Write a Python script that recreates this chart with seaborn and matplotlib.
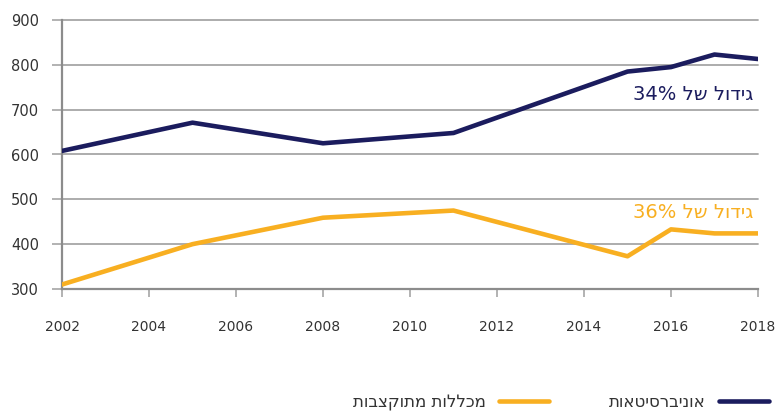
import matplotlib
matplotlib.use("Agg")
import matplotlib.pyplot as plt
import seaborn as sns
import pandas as pd

years = [2002, 2005, 2008, 2011, 2015, 2016, 2017, 2018]
universities = [608, 671, 625, 648, 785, 795, 823, 813]
colleges = [310, 400, 459, 475, 373, 433, 424, 424]
series_names = ["אוניברסיטאות", "מכללות מתוקצבות"]
annot_texts = ["גידול של 34%", "גידול של 36%"]
x_ticks = list(range(2002, 2019, 2))
y_ticks = [300, 400, 500, 600, 700, 800, 900]

NAVY = "#1b1c5e"
ORANGE = "#f8af21"
GRID = "#a6a6a6"


def vis(s):
    """Visual (left-to-right) order for simple Hebrew strings."""
    toks = s.split(" ")
    out = []
    for t in reversed(toks):
        if any("\u0590" <= c <= "\u05ff" for c in t):
            out.append(t[::-1])
        else:
            out.append(t)
    return " ".join(out)


df = pd.DataFrame({
    "year": years * 2,
    "value": universities + colleges,
    "series": [series_names[0]] * len(years) + [series_names[1]] * len(years),
})

sns.set_theme(style="white")
plt.rcParams["font.family"] = ["DejaVu Sans"]

fig = plt.figure(figsize=(7.76, 4.11), dpi=100)
ax = fig.add_axes([62 / 776, 1 - 289 / 411, (758 - 62) / 776, (289 - 20) / 411])

sns.lineplot(data=df, x="year", y="value", hue="series",
             palette={series_names[0]: NAVY, series_names[1]: ORANGE},
             linewidth=3.3, ax=ax, legend=False)

ax.set_xlim(2002, 2018)
ax.set_ylim(300, 900)
ax.set_xticks(x_ticks)
ax.set_yticks(y_ticks)
ax.set_xlabel("")
ax.set_ylabel("")
for y in y_ticks[1:]:
    ax.axhline(y, color=GRID, lw=1.3, zorder=0, clip_on=False)

for s in ["top", "right"]:
    ax.spines[s].set_visible(False)
ax.spines["left"].set_color("#8c8c8c")
ax.spines["left"].set_linewidth(1.6)
ax.spines["bottom"].set_color("#8c8c8c")
ax.spines["bottom"].set_linewidth(1.6)
ax.spines["left"].set_zorder(1)

ax.tick_params(axis="y", length=7.5, width=1.2, color=GRID, pad=9,
               labelsize=10.5, labelcolor="#333333", left=True)
ax.tick_params(axis="x", length=6, width=1.2, color=GRID, pad=16,
               labelsize=10, labelcolor="#333333", bottom=True)

ax.text(2017.9, 733, vis(annot_texts[0]), color=NAVY, fontsize=14,
        ha="right", va="center")
ax.text(2017.9, 470, vis(annot_texts[1]), color=ORANGE, fontsize=14,
        ha="right", va="center")

handles = ax.get_lines()[:2]
leg = fig.legend([handles[1], handles[0]],
                 [vis(series_names[1]), vis(series_names[0])],
                 ncol=2, markerfirst=False, frameon=False,
                 loc="center", bbox_to_anchor=(561 / 776, 1 - 402 / 411),
                 fontsize=12, handlelength=3.0, handletextpad=0.8,
                 columnspacing=3.6)
for t in leg.get_texts():
    t.set_color("#333333")

fig.savefig("out.png", dpi=100)
